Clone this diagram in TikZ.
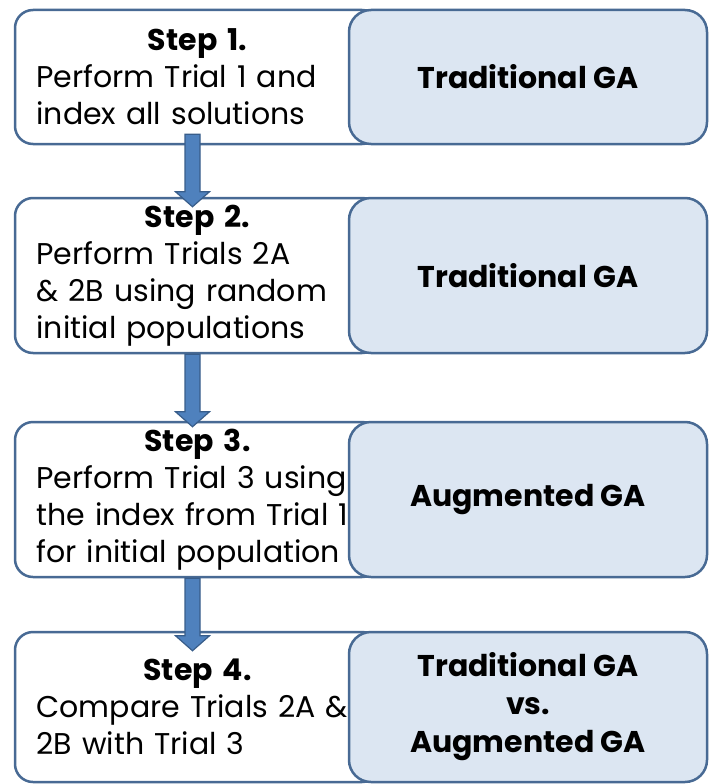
\documentclass[tikz,border=0pt]{standalone}
\usepackage{fontspec}
\setmainfont{Poppins}
\usetikzlibrary{calc}

\definecolor{boxedge}{RGB}{72,106,148}
\definecolor{boxfill}{RGB}{220,230,242}
\definecolor{arrowfill}{RGB}{79,129,189}
\definecolor{arrowedge}{RGB}{56,93,138}

% bold, centred heading line inside a left-aligned step box
\newcommand\stephead[1]{\makebox[\hsize][c]{\bfseries #1}\\}

\begin{document}
\begin{tikzpicture}[x=1pt,y=-1pt,
  stepbox/.style={draw=boxedge, line width=2.5pt, fill=white,
    rounded corners=18pt, minimum width=365pt, inner sep=0pt,
    text width=322pt, align=left, font=\fontsize{30}{37}\selectfont},
  gabox/.style={draw=boxedge, line width=2.5pt, fill=boxfill,
    rounded corners=22pt, minimum width=358pt, inner sep=0pt,
    align=center, font=\fontsize{30}{38}\selectfont\bfseries},
  flowarrow/.style={draw=arrowedge, line width=1.2pt, fill=arrowfill,
    to path={let \p1=(\tikztostart), \p2=(\tikztotarget) in
      (\x1-7.5pt,\y1) -- (\x1+7.5pt,\y1) -- (\x1+7.5pt,\y2+15pt)
      -- (\x1+17pt,\y2+15pt) -- (\x2,\y2) -- (\x1-17pt,\y2+15pt)
      -- (\x1-7.5pt,\y2+15pt) -- cycle}}]
\useasboundingbox (0,0) rectangle (709,784);

% step boxes (left column)
\node[stepbox, minimum height=134pt] (s1) at (197.5,77)
  {\stephead{Step 1.}Perform Trial 1 and\\index all solutions};
\node[stepbox, minimum height=155pt] (s2) at (197.5,275.5)
  {\stephead{Step 2.}Perform Trials 2A\\\& 2B using random\\initial populations};
\node[stepbox, minimum height=155pt] (s3) at (197.5,499.5)
  {\stephead{Step 3.}Perform Trial 3 using\\the index from Trial 1\\for initial population};
\node[stepbox, minimum height=150pt] (s4) at (197.5,707)
  {\stephead{Step 4.}Compare Trials 2A \&\\2B with Trial 3};

% algorithm boxes (right column)
\node[gabox, minimum height=134pt] (g1) at (528,77) {Traditional GA};
\node[gabox, minimum height=155pt] (g2) at (528,275.5) {Traditional GA};
\node[gabox, minimum height=155pt] (g3) at (528,499.5) {Augmented GA};
\node[gabox, minimum height=150pt] (g4) at (528,707) {Traditional GA\\vs.\\Augmented GA};

% block arrows between the steps
\draw[flowarrow] ([xshift=-5pt,yshift=11pt]s1.south) to ([xshift=-5pt,yshift=-10pt]s2.north);
\draw[flowarrow] ([xshift=-5pt]s2.south) to ([xshift=-5pt,yshift=-6pt]s3.north);
\draw[flowarrow] ([xshift=-5pt]s3.south) to ([xshift=-5pt,yshift=-20pt]s4.north);
\end{tikzpicture}
\end{document}
